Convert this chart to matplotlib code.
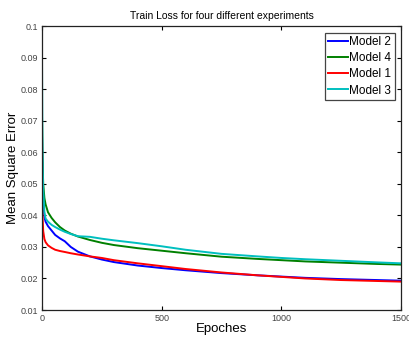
import matplotlib
matplotlib.use("Agg")
import matplotlib.pyplot as plt

plt.rcParams['font.family'] = ['Liberation Sans', 'DejaVu Sans']

epochs = [0, 2, 5, 10, 15, 25, 40, 55, 75, 95, 120, 150, 200, 250, 300,
          400, 500, 600, 750, 900, 1000, 1100, 1250, 1400, 1500]

model2 = [0.066, 0.052, 0.045, 0.0395, 0.0380, 0.0366, 0.0352, 0.0338, 0.0327, 0.0318,
          0.0300, 0.0285, 0.0270, 0.0260, 0.0252, 0.0241, 0.0233, 0.0226, 0.0217,
          0.0210, 0.0206, 0.0202, 0.0198, 0.0195, 0.0193]
model4 = [0.072, 0.058, 0.050, 0.0455, 0.0435, 0.0410, 0.0392, 0.0378, 0.0363, 0.0352,
          0.0342, 0.0333, 0.0322, 0.0313, 0.0306, 0.0296, 0.0288, 0.0280, 0.0269,
          0.0262, 0.0258, 0.0254, 0.0250, 0.0246, 0.0244]
model1 = [0.050, 0.040, 0.035, 0.0325, 0.0315, 0.0305, 0.0297, 0.0291, 0.0287, 0.0284,
          0.0280, 0.0276, 0.0270, 0.0265, 0.0258, 0.0248, 0.0239, 0.0230, 0.0219,
          0.0210, 0.0205, 0.0200, 0.0195, 0.0192, 0.0190]
model3 = [0.090, 0.060, 0.048, 0.041, 0.039, 0.038, 0.037, 0.0363, 0.0355, 0.0348,
          0.0341, 0.0334, 0.0332, 0.0326, 0.0321, 0.0312, 0.0302, 0.0291, 0.0278,
          0.0270, 0.0265, 0.0261, 0.0256, 0.0251, 0.0248]

xticks = [0, 500, 1000, 1500]
yticks = [0.01, 0.02, 0.03, 0.04, 0.05, 0.06, 0.07, 0.08, 0.09, 0.1]
ylabels = ['0.01', '0.02', '0.03', '0.04', '0.05', '0.06', '0.07', '0.08', '0.09', '0.1']

fig = plt.figure(figsize=(4.09, 3.40), dpi=100)
ax = fig.add_axes([0.1027, 0.0882, 0.878, 0.835])

ax.plot(epochs, model2, color='#0000ff', lw=1.4, label='Model 2')
ax.plot(epochs, model4, color='#008000', lw=1.4, label='Model 4')
ax.plot(epochs, model1, color='#ff0000', lw=1.4, label='Model 1')
ax.plot(epochs, model3, color='#00bfbf', lw=1.4, label='Model 3')

ax.set_xlim(0, 1500)
ax.set_ylim(0.01, 0.1)
ax.set_xticks(xticks)
ax.set_xticklabels([str(t) for t in xticks])
ax.set_yticks(yticks)
ax.set_yticklabels(ylabels)
ax.tick_params(direction='in', length=3, width=0.8, top=True, right=True,
               labelsize=6.5, labelcolor='#444444', pad=3)
for s in ax.spines.values():
    s.set_linewidth(0.9)
    s.set_color('#222222')

ax.set_title('Train Loss for four different experiments', fontsize=7.5, pad=5)
ax.set_xlabel('Epoches', fontsize=9.5, labelpad=0)
ax.set_ylabel('Mean Square Error', fontsize=9.5, labelpad=1)

leg = ax.legend(loc='upper right', fontsize=8.5, fancybox=False, framealpha=1,
                edgecolor='#444444', handlelength=1.7, handletextpad=0.05,
                borderpad=0.3, labelspacing=0.35, borderaxespad=0.55)
leg.get_frame().set_linewidth(0.9)

fig.savefig('out.png', dpi=100)
